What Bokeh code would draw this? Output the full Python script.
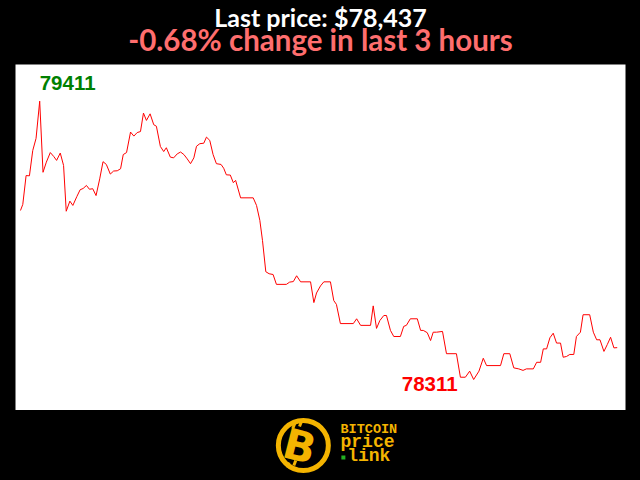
from bokeh.plotting import figure
from bokeh.models import Range1d, ColumnDataSource
from bokeh.layouts import column
from bokeh.embed import file_html
from bokeh.resources import INLINE
from bokeh.core.properties import value

# ---- data (minutes since start of the 3-hour window, price in USD) ----
minutes = [0.0, 0.7, 1.7, 2.7, 3.7, 4.7, 5.8, 6.8, 7.8, 9.0,
           10.0, 10.9, 12.0, 13.0, 13.8, 14.9, 15.8, 17.0, 18.0, 18.9,
           19.9, 20.8, 21.8, 22.8, 23.9, 24.9, 25.9, 27.1, 28.1, 29.2,
           30.2, 31.0, 32.0, 33.2, 34.2, 35.2, 36.2, 37.1, 38.0, 39.1,
           40.2, 41.0, 42.2, 43.2, 44.0, 45.2, 46.2, 47.3, 48.3, 49.3,
           50.3, 51.3, 52.3, 53.1, 54.1, 55.3, 56.1, 57.1, 58.1, 59.1,
           60.5, 61.3, 62.1, 63.3, 64.2, 64.9, 66.4, 70.2, 71.2, 72.2,
           73.0, 74.0, 75.0, 76.2, 77.2, 80.2, 81.2, 82.3, 83.3, 84.5,
           87.5, 88.5, 89.3, 90.5, 91.5, 93.5, 94.5, 95.3, 96.5, 100.4,
           101.4, 102.6, 105.6, 106.4, 107.4, 108.4, 109.6, 110.4, 111.6, 112.6,
           114.6, 115.6, 116.4, 117.6, 119.7, 120.7, 121.5, 122.7, 123.7, 124.5,
           125.5, 127.3, 128.5, 131.5, 132.7, 134.2, 135.5, 136.7, 138.3, 139.6,
           140.6, 144.8, 145.8, 147.6, 148.8, 150.3, 151.6, 152.6, 154.7, 155.7,
           156.9, 157.7, 158.7, 159.7, 160.7, 161.7, 162.9, 163.7, 164.7, 165.7,
           166.9, 167.7, 168.9, 169.7, 171.7, 172.8, 173.8, 174.8, 176.0, 177.0,
           178.0, 179.0, 180.0]

prices = [78979, 79003, 79117, 79116, 79216, 79264, 79411, 79130, 79170, 79208,
          79193, 79177, 79206, 79157, 78976, 79016, 78999, 79034, 79061, 79066,
          79078, 79063, 79065, 79038, 79104, 79172, 79161, 79123, 79135, 79136,
          79144, 79200, 79208, 79289, 79273, 79287, 79291, 79364, 79335, 79361,
          79318, 79312, 79232, 79212, 79227, 79190, 79187, 79203, 79210, 79200,
          79183, 79164, 79187, 79233, 79243, 79245, 79269, 79256, 79200, 79164,
          79161, 79146, 79120, 79119, 79089, 79098, 79029, 79029, 78999, 78940,
          78861, 78737, 78729, 78726, 78687, 78687, 78696, 78698, 78721, 78697,
          78697, 78615, 78653, 78681, 78697, 78697, 78623, 78608, 78532, 78532,
          78551, 78525, 78525, 78602, 78513, 78544, 78564, 78564, 78505, 78481,
          78481, 78521, 78525, 78551, 78551, 78505, 78505, 78496, 78465, 78498,
          78498, 78501, 78413, 78413, 78320, 78320, 78344, 78311, 78344, 78395,
          78366, 78366, 78413, 78413, 78357, 78353, 78347, 78353, 78353, 78379,
          78379, 78432, 78432, 78476, 78494, 78455, 78455, 78399, 78402, 78410,
          78410, 78481, 78498, 78567, 78567, 78498, 78468, 78468, 78422, 78449,
          78478, 78436, 78437]

last_price = 78437
change_pct = -0.68
window_hours = 3

title_text = f"Last price: ${last_price:,}"
subtitle_text = f"{change_pct:.2f}% change in last {window_hours} hours"

i_max = prices.index(max(prices))
i_min = prices.index(min(prices))

FONT = "Lato"
GOLD = "#F4B400"


def strip(height, bg="black"):
    f = figure(width=640, height=height, output_backend="svg", toolbar_location=None,
               x_range=Range1d(0, 640), y_range=Range1d(0, height),
               x_axis_location=None, y_axis_location=None,
               min_border_left=0, min_border_right=0, min_border_top=0, min_border_bottom=0,
               background_fill_color=bg, border_fill_color=bg, outline_line_color=None)
    f.grid.visible = False
    return f


# ---- header with title and subtitle ----
hd = strip(64)
hd.text(x=[320], y=[48], text=[title_text], text_color="white", text_font=value(FONT),
        text_font_style="bold", text_font_size="25px", text_align="center",
        text_baseline="alphabetic")
hd.text(x=[320], y=[25], text=[subtitle_text], text_color="#FF6E6E", text_font=value(FONT),
        text_font_style="bold", text_font_size="29.5px", text_align="center",
        text_baseline="alphabetic")

# ---- main chart ----
p = figure(width=640, height=346, output_backend="svg", toolbar_location=None,
           x_range=Range1d(-1.5, 182.5), y_range=Range1d(78188.5, 79556),
           x_axis_location=None, y_axis_location=None,
           min_border_left=15, min_border_right=15, min_border_top=0, min_border_bottom=0,
           background_fill_color="white", border_fill_color="black",
           outline_line_color=None)
p.grid.visible = False

p.line(minutes, prices, line_color="#FF0000", line_width=1)

hi_src = ColumnDataSource(dict(x=[minutes[i_max]], y=[prices[i_max]], t=[str(prices[i_max])]))
lo_src = ColumnDataSource(dict(x=[minutes[i_min]], y=[prices[i_min]], t=[str(prices[i_min])]))
p.text(x="x", y="y", text="t", source=hi_src, text_color="#008000",
       text_font=value("Liberation Sans"), text_font_style="bold", text_font_size="20.5px",
       text_align="left", text_baseline="alphabetic", x_offset=0, y_offset=-18)
p.text(x="x", y="y", text="t", source=lo_src, text_color="#FF0000",
       text_font=value("Liberation Sans"), text_font_style="bold", text_font_size="20.5px",
       text_align="right", text_baseline="alphabetic", x_offset=-16, y_offset=4)

# ---- logo strip ----
lg = strip(70)
lg.scatter(x=[302], y=[35], size=50, marker="circle", fill_color="black",
           line_color=GOLD, line_width=5)
lg.text(x=[298], y=[34], text=["B"], text_color=GOLD, text_font=value("DejaVu Sans"),
        text_font_style="bold", text_font_size="42px", text_align="center",
        text_baseline="middle", angle=-0.25)
lg.segment(x0=[291, 298, 285, 292], y0=[52, 54, 13, 15], x1=[293, 300, 287, 294], y1=[57, 59, 18, 20],
           line_color=GOLD, line_width=3)
lg.text(x=[341], y=[51.5], text=["BITCOIN"], text_color=GOLD, text_font=value("Liberation Mono"),
        text_font_style="bold", text_font_size="13.5px", text_align="left", text_baseline="alphabetic")
lg.text(x=[341], y=[38.5], text=["price"], text_color=GOLD, text_font=value("Liberation Mono"),
        text_font_style="bold", text_font_size="18px", text_align="left", text_baseline="alphabetic")
lg.text(x=[348], y=[24.5], text=["link"], text_color=GOLD, text_font=value("Liberation Mono"),
        text_font_style="bold", text_font_size="18px", text_align="left", text_baseline="alphabetic")
lg.scatter(x=[344], y=[23], size=4, marker="square", fill_color="#22B022", line_color=None)

layout = column(hd, p, lg, spacing=0)

html = file_html(layout, INLINE, title="Bitcoin price")
html = html.replace("<head>", "<head><style>html,body{background:#000000;}</style>", 1)
open("out.html", "w").write(html)
